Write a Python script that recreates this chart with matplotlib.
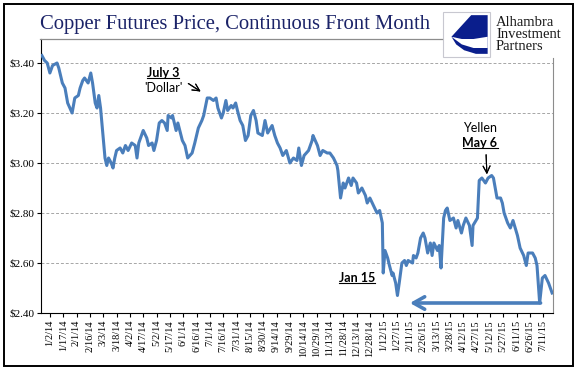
import pandas as pd
import matplotlib
matplotlib.use("Agg")
import matplotlib.pyplot as plt
from matplotlib.patches import Rectangle, Polygon
from matplotlib.lines import Line2D

# copper front month; days counted from 1/2/14
start = pd.Timestamp("2014-01-02")
days = [-9, -6, -3, 0, 3, 8, 10, 14, 17, 20, 25, 26, 28, 32, 34, 37, 39, 43, 46, 48,
        51, 53, 55, 57, 60, 62, 64, 66, 69, 71, 73, 75, 79, 82, 85, 88, 92, 96, 98, 100,
        105, 109, 111, 115, 117, 120, 123, 126, 129, 132, 133, 137, 138, 142, 144, 149, 152, 155, 160, 163,
        167, 171, 173, 177, 180, 184, 187, 189, 193, 195, 198, 200, 204, 206, 209, 211, 214, 217, 220, 223,
        226, 229, 232, 234, 239, 242, 245, 250, 253, 256, 259, 262, 266, 270, 274, 278, 280, 283, 286, 291,
        295, 296, 301, 304, 307, 312, 315, 319, 323, 324, 327, 330, 332, 336, 339, 341, 345, 347, 351, 355,
        357, 360, 364, 368, 371, 374, 375, 377, 380, 382, 385, 386, 389, 391, 393, 396, 399, 401, 403, 408,
        409, 412, 414, 417, 420, 422, 425, 428, 430, 432, 436, 438, 440, 443, 445, 447, 450, 454, 457, 459,
        463, 465, 468, 472, 475, 476, 481, 483, 486, 490, 493, 497, 499, 503, 507, 509, 511, 515, 518, 521,
        526, 529, 533, 536, 538, 543, 546, 548, 551, 554, 557, 561, 565]
price = [3.43, 3.41, 3.40, 3.36, 3.39, 3.40, 3.38, 3.32, 3.30, 3.24, 3.20, 3.22, 3.26, 3.27, 3.30, 3.33, 3.34, 3.32, 3.36, 3.32,
         3.24, 3.22, 3.27, 3.22, 3.10, 3.02, 2.99, 3.02, 3.00, 2.98, 3.02, 3.05, 3.06, 3.04, 3.07, 3.05, 3.08, 3.07, 3.02, 3.08,
         3.13, 3.10, 3.07, 3.08, 3.05, 3.09, 3.16, 3.17, 3.16, 3.13, 3.19, 3.18, 3.19, 3.13, 3.16, 3.09, 3.07, 3.02, 3.04, 3.08,
         3.14, 3.17, 3.19, 3.26, 3.26, 3.25, 3.26, 3.22, 3.18, 3.20, 3.25, 3.21, 3.23, 3.22, 3.24, 3.21, 3.17, 3.15, 3.09, 3.11,
         3.19, 3.21, 3.17, 3.12, 3.11, 3.17, 3.12, 3.15, 3.11, 3.08, 3.06, 3.03, 3.05, 3.00, 3.02, 3.01, 3.06, 2.99, 3.03, 3.05,
         3.09, 3.11, 3.07, 3.03, 3.05, 3.04, 3.04, 3.02, 2.99, 2.97, 2.86, 2.92, 2.90, 2.94, 2.91, 2.94, 2.92, 2.88, 2.90, 2.87,
         2.84, 2.86, 2.83, 2.80, 2.81, 2.76, 2.56, 2.65, 2.62, 2.59, 2.55, 2.56, 2.52, 2.47, 2.52, 2.60, 2.61, 2.59, 2.61, 2.60,
         2.63, 2.62, 2.64, 2.70, 2.72, 2.70, 2.64, 2.68, 2.63, 2.68, 2.65, 2.67, 2.58, 2.78, 2.81, 2.82, 2.77, 2.78, 2.74, 2.77,
         2.72, 2.75, 2.78, 2.75, 2.67, 2.75, 2.78, 2.93, 2.94, 2.92, 2.94, 2.95, 2.94, 2.86, 2.86, 2.84, 2.80, 2.76, 2.74, 2.77,
         2.71, 2.66, 2.63, 2.59, 2.64, 2.64, 2.62, 2.59, 2.44, 2.54, 2.55, 2.52, 2.48]

tick_labels = ["1/2/14", "1/17/14", "2/1/14", "2/16/14", "3/3/14", "3/18/14", "4/2/14", "4/17/14",
               "5/2/14", "5/17/14", "6/1/14", "6/16/14", "7/1/14", "7/16/14", "7/31/14", "8/15/14",
               "8/30/14", "9/14/14", "9/29/14", "10/14/14", "10/29/14", "11/13/14", "11/28/14", "12/13/14",
               "12/28/14", "1/12/15", "1/27/15", "2/11/15", "2/26/15", "3/13/15", "3/28/15", "4/12/15",
               "4/27/15", "5/12/15", "5/27/15", "6/11/15", "6/26/15", "7/11/15"]
y_ticks = [2.40, 2.60, 2.80, 3.00, 3.20, 3.40]

# the blue arrow: July 2015 low back to the Jan 15 low
arrow_from = pd.Timestamp("2015-07-08")
arrow_to = pd.Timestamp("2015-02-11")
arrow_level = 2.44

W, H = 577, 386
LINE_BLUE = "#4A7EBB"
NAVY = "#1B2368"


def px(x, y):
    # pixel position (from top-left) -> figure fraction
    return x / W, 1 - y / H


dates = start + pd.to_timedelta(days, unit="D")
tick_dates = pd.to_datetime(tick_labels, format="%m/%d/%y")

fig = plt.figure(figsize=(W / 100, H / 100), dpi=100)
fig.patch.set_facecolor("white")

ax = fig.add_axes([41 / W, 1 - 313 / H, (553 - 41) / W, (313 - 39) / H])
ax.plot(dates, price, color=LINE_BLUE, lw=2.2, solid_joinstyle="round", zorder=3)

ax.set_ylim(2.40, 3.496)
ax.set_xlim(start - pd.Timedelta(days=10), start + pd.Timedelta(days=566))
ax.set_yticks(y_ticks)
ax.set_yticklabels(["${:.2f}".format(v) for v in y_ticks], family="Liberation Serif", fontsize=8)
ax.set_xticks(tick_dates)
ax.set_xticklabels(tick_labels, rotation=90, family="Liberation Serif", fontsize=7.5)
ax.tick_params(axis="both", direction="out", length=3, width=0.8, color="black", pad=2)
ax.grid(axis="y", color="#A6A6A6", lw=0.7, ls=(0, (3, 2)))
ax.set_axisbelow(True)

ax.spines["top"].set_visible(False)
ax.spines["left"].set_color("black")
ax.spines["bottom"].set_color("black")
ax.spines["right"].set_color("#8C8C8C")
ax.spines["right"].set_bounds(2.40, 3.42)

ax.annotate("", xy=(arrow_to, arrow_level), xytext=(arrow_from, arrow_level),
            arrowprops=dict(arrowstyle="->,head_length=0.8,head_width=0.45", color=LINE_BLUE,
                            lw=2.6, shrinkA=0, shrinkB=0), zorder=4)

# title and frame
fig.text(*px(40, 29), "Copper Futures Price, Continuous Front Month", family="Liberation Serif",
         fontsize=14.9, color=NAVY, ha="left", va="baseline")
fig.add_artist(Line2D([40 / W, 442 / W], [1 - 39 / H, 1 - 39 / H], color="#8C8C8C", lw=0.9))
fig.add_artist(Rectangle(px(4, 366), 569 / W, 362 / H, fill=False, ec="black", lw=1.4))

# logo
fig.add_artist(Rectangle(px(443, 57), 47 / W, 45 / H, fc="white", ec="#C8C8D0", lw=0.8))
lx0, ly0, lw_, lh_ = 443, 57, 47, 45


def lp(u, v):
    return px(lx0 + u * lw_, ly0 - v * lh_)


fig.add_artist(Polygon([lp(0.60, 0.93), lp(0.95, 0.93), lp(0.95, 0.07), lp(0.70, 0.07), lp(0.45, 0.15),
                        lp(0.28, 0.28), lp(0.18, 0.45)], closed=True, fc="#0A1E8C", ec="none"))
fig.add_artist(Polygon([lp(0.18, 0.45), lp(0.40, 0.40), lp(0.65, 0.40), lp(0.95, 0.45), lp(0.95, 0.20),
                        lp(0.65, 0.20), lp(0.40, 0.28)], closed=True, fc="white", ec="none"))
for i, word in enumerate(["Alhambra", "Investment", "Partners"]):
    fig.text(*px(496, 26 + 12 * i), word, family="Liberation Serif", fontsize=10.5,
             color="#1A1A1A", ha="left", va="baseline")

# annotations
note_font = "Lato"
fig.text(*px(163, 73), "July 3", family=note_font, fontsize=9, weight="bold", ha="center", va="center")
fig.text(*px(163, 88), "'Dollar'", family=note_font, fontsize=9, ha="center", va="center")
fig.text(*px(480, 128), "Yellen", family=note_font, fontsize=9, ha="center", va="center")
fig.text(*px(480, 143), "May 6", family=note_font, fontsize=9, weight="bold", ha="center", va="center")
fig.text(*px(357, 278), "Jan 15", family=note_font, fontsize=9, weight="bold", ha="center", va="center")

for (x0, y0), (x1, y1) in [((186, 82), (203, 93)), ((486, 152), (487, 177))]:
    fig.add_artist(plt.annotate("", xy=px(x1, y1), xytext=px(x0, y0), xycoords="figure fraction",
                                arrowprops=dict(arrowstyle="->,head_length=0.5,head_width=0.25",
                                                color="black", lw=0.8)))

# underline the bold labels
fig.canvas.draw()
renderer = fig.canvas.get_renderer()
for t in fig.texts:
    if t.get_weight() == "bold":
        bb = t.get_window_extent(renderer)
        yy = (bb.y0 + 1) / fig.bbox.height
        fig.add_artist(Line2D([bb.x0 / fig.bbox.width, bb.x1 / fig.bbox.width], [yy, yy],
                              color="black", lw=0.8))

fig.savefig("out.png", dpi=100)
